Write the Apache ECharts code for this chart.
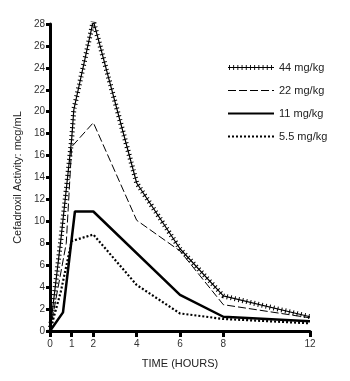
<!DOCTYPE html>
<html>
<head>
<meta charset="utf-8">
<script src="https://cdn.jsdelivr.net/npm/echarts@6/dist/echarts.min.js"></script>
<style>
  html, body { margin: 0; padding: 0; background: #fff; }
  #chart { width: 350px; height: 381px; }
</style>
</head>
<body>
<div id="chart"></div>
<script>
// hours after dose, concentration in mcg/mL
var dose44 = [[0, 0], [0.5, 8.3], [1, 17.5], [1.1, 20.2], [2, 28.3], [4, 13.5], [6, 7.5], [8, 3.2], [12, 1.3]]
var dose22 = [[0, 0], [0.75, 8], [1, 16.8], [2, 19], [4, 10.1], [6, 7.3], [8, 2.4], [12, 1.2]]
var dose11 = [[0, 0], [0.6, 1.7], [1.15, 10.9], [2, 10.9], [6, 3.3], [8, 1.3], [12, 0.9]]
var dose55 = [[0, 0], [0.5, 3.6], [1, 8.2], [2, 8.8], [4, 4.2], [6, 1.6], [8, 1.1], [12, 0.7]]
var seriesNames = ['44 mg/kg', '22 mg/kg', '11 mg/kg', '5.5 mg/kg']
var xTicks = [0, 1, 2, 4, 6, 8, 12]

var font = '"Liberation Sans Narrow", "Liberation Sans", Arial, sans-serif'

// legend icon for the 44 mg/kg line: thin line with little cross bars
var plusIcon = 'path://M0,4.6h46v0.8h-46z'
for (var i = 1; i < 46; i += 4.2) {
  plusIcon += ' M' + i.toFixed(1) + ',2.5h0.9v5h-0.9z'
}

var chart = echarts.init(document.getElementById('chart'))
chart.setOption({
  animation: false,
  color: ['#000'],
  textStyle: { fontFamily: font },
  grid: { left: 50, right: 40, top: 24, bottom: 50 },
  legend: {
    orient: 'vertical',
    left: 222,
    top: 57,
    itemWidth: 46,
    itemHeight: 10,
    itemGap: 12,
    itemStyle: { opacity: 0 },
    textStyle: { fontSize: 11, color: '#222', fontFamily: font },
    data: [
      { name: seriesNames[0], icon: plusIcon, itemStyle: { color: '#000', opacity: 1 } },
      { name: seriesNames[1], lineStyle: { width: 1 } },
      { name: seriesNames[2] },
      { name: seriesNames[3] }
    ]
  },
  xAxis: {
    type: 'value',
    min: 0,
    max: 12,
    name: 'TIME (HOURS)',
    nameLocation: 'middle',
    nameGap: 27,
    nameTextStyle: { fontSize: 11, color: '#222', fontFamily: font },
    splitLine: { show: false },
    axisLine: { lineStyle: { color: '#000', width: 3 } },
    axisTick: { customValues: xTicks, length: 6, lineStyle: { color: '#000', width: 3 } },
    axisLabel: { customValues: xTicks, fontSize: 10, color: '#333', margin: 8 }
  },
  yAxis: {
    type: 'value',
    min: 0,
    max: 28,
    interval: 2,
    name: 'Cefadroxil Activity: mcg/mL',
    nameLocation: 'middle',
    nameGap: 21,
    nameTextStyle: { fontSize: 11, color: '#222', fontFamily: font },
    splitLine: { show: false },
    axisLine: { show: true, lineStyle: { color: '#000', width: 3 } },
    axisTick: { show: true, length: 4, lineStyle: { color: '#000', width: 3 } },
    axisLabel: { fontSize: 10, color: '#333', margin: 5 }
  },
  series: [
    {
      name: seriesNames[0],
      type: 'line',
      symbol: 'none',
      data: dose44,
      lineStyle: { color: '#000', width: 1.2 },
      z: 5
    },
    {
      // cross bars along the 44 mg/kg line
      name: seriesNames[0],
      type: 'line',
      symbol: 'none',
      data: dose44,
      lineStyle: { color: '#000', width: 5, type: [1, 3] },
      z: 5
    },
    {
      name: seriesNames[1],
      type: 'line',
      symbol: 'none',
      data: dose22,
      lineStyle: { color: '#000', width: 1, type: [8, 3] }
    },
    {
      name: seriesNames[2],
      type: 'line',
      symbol: 'none',
      data: dose11,
      lineStyle: { color: '#000', width: 2.5 }
    },
    {
      name: seriesNames[3],
      type: 'line',
      symbol: 'none',
      data: dose55,
      lineStyle: { color: '#000', width: 2.2, type: [2, 2] }
    }
  ]
})
</script>
</body>
</html>
